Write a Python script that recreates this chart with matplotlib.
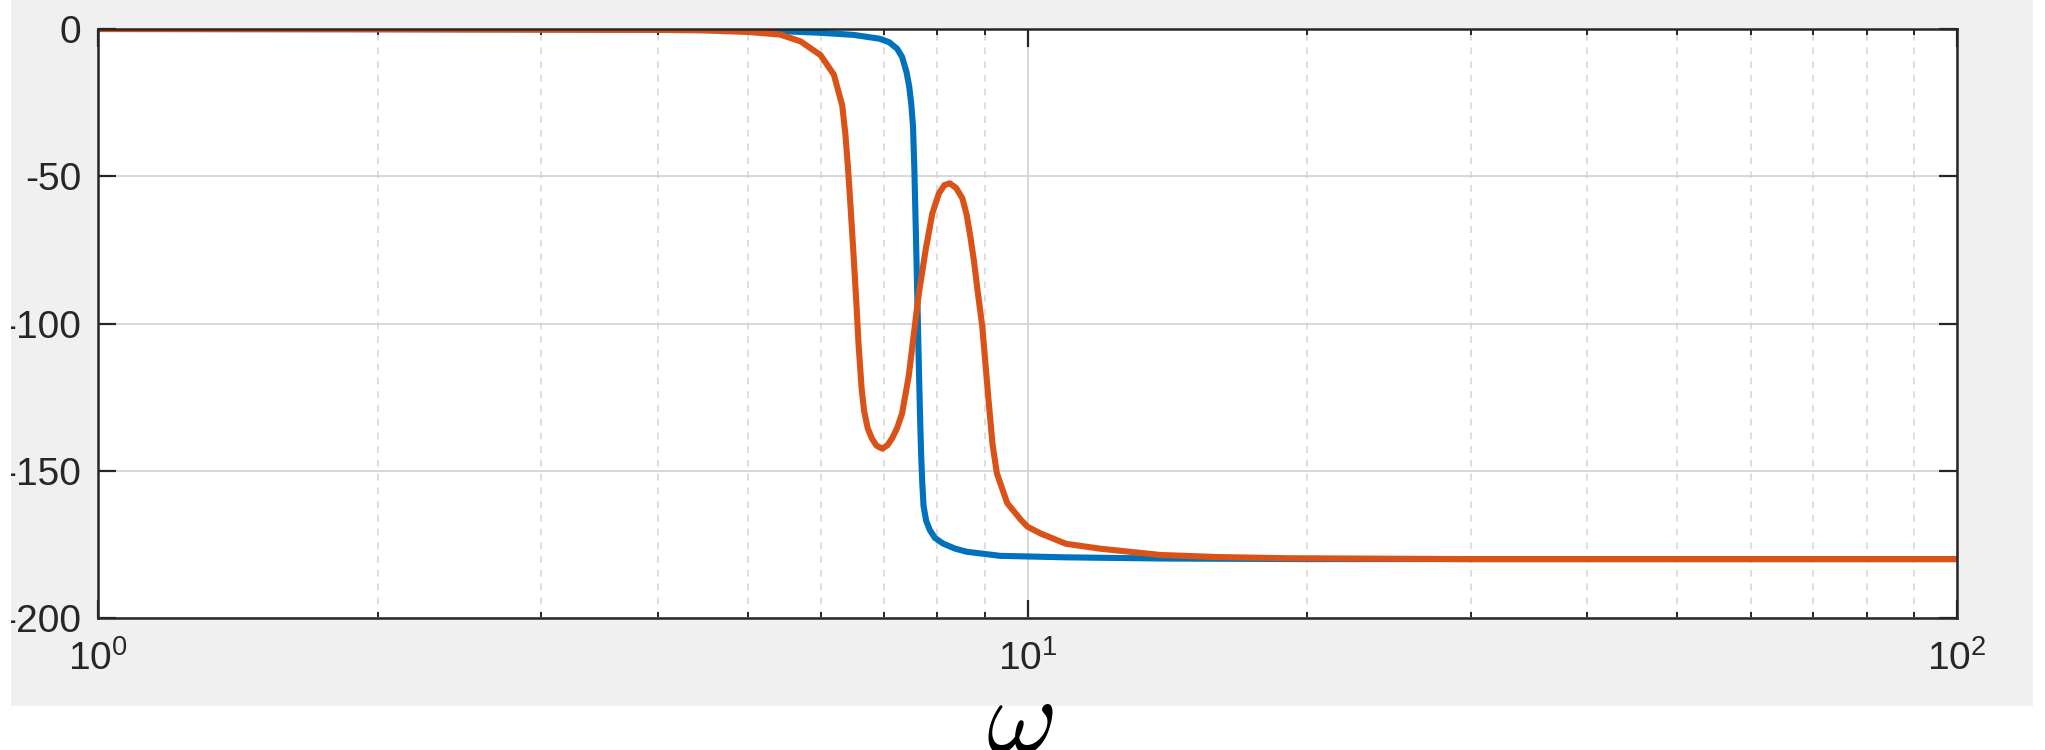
import numpy as np
import matplotlib
matplotlib.use('Agg')
import matplotlib.pyplot as plt
from matplotlib.patches import Rectangle

# phase data (omega in rad/s, phase in deg)
omega_a = [1.0, 2.0, 3.0, 4.0, 5.0, 5.5, 6.0, 6.5, 6.93, 7.1, 7.24, 7.33, 7.41, 7.46, 7.50,
           7.53, 7.555, 7.58, 7.60, 7.62, 7.645, 7.665, 7.685, 7.705, 7.73, 7.78, 7.85, 7.95,
           8.11, 8.35, 8.60, 9.35, 11.0, 13.9, 20.0, 100.0]
phase_a = [0.0, -0.05, -0.15, -0.25, -0.4, -0.8, -1.3, -2.0, -3.3, -4.5, -6.7, -9.5, -14.6, -19.5, -25.8,
           -33.0, -47.0, -66.0, -82.0, -98.0, -118.0, -133.0, -145.0, -154.0, -162.0, -167.0, -170.1, -172.8,
           -174.7, -176.4, -177.5, -178.9, -179.4, -179.8, -180.0, -180.0]

omega_b = [1.0, 2.0, 3.0, 4.0, 4.5, 5.0, 5.42, 5.70, 5.99, 6.19, 6.32, 6.37, 6.41, 6.45, 6.50,
           6.55, 6.58, 6.63, 6.67, 6.73, 6.80, 6.88, 6.98, 7.07, 7.15, 7.24, 7.33, 7.45,
           7.55, 7.64, 7.77, 7.90, 8.03, 8.14, 8.25, 8.38, 8.51, 8.60, 8.68, 8.76, 8.83,
           8.94, 9.08, 9.17, 9.27, 9.51, 9.84, 10.0, 10.33, 11.0, 12.0, 13.9, 16.0, 19.0,
           30.0, 100.0]
phase_b = [0.0, -0.1, -0.2, -0.3, -0.5, -1.0, -1.9, -4.2, -8.9, -15.5, -26.0, -36.0, -47.0, -60.0, -77.0,
           -95.0, -107.0, -122.0, -129.5, -135.5, -139.0, -141.5, -142.5, -141.3, -139.0, -135.5, -130.5, -118.0,
           -103.0, -89.8, -75.0, -62.6, -55.8, -53.0, -52.4, -54.0, -57.5, -63.0, -70.5, -79.0, -88.0,
           -101.0, -126.0, -141.0, -150.9, -161.0, -166.7, -169.0, -171.3, -174.8, -176.5, -178.6, -179.3, -179.7,
           -180.0, -180.0]

yticks = [-200, -150, -100, -50, 0]
xticks = [1, 10, 100]
xticklabels = ['$10^{0}$', '$10^{1}$', '$10^{2}$']

plt.rcParams['font.family'] = ['Liberation Sans', 'DejaVu Sans']
plt.rcParams['mathtext.fontset'] = 'custom'
plt.rcParams['mathtext.rm'] = 'Liberation Sans'
plt.rcParams['mathtext.it'] = 'Liberation Sans:italic'
plt.rcParams['mathtext.default'] = 'rm'
plt.rcParams['axes.unicode_minus'] = False

W, H = 2045, 750
fig = plt.figure(figsize=(W / 100, H / 100), dpi=100)
fig.patch.set_facecolor('white')
# matlab grey figure area
fig.add_artist(Rectangle((11 / W, 1 - 706 / H), (2033 - 11) / W, 706 / H,
                         transform=fig.transFigure, facecolor='#f0f0f0', edgecolor='none', zorder=-10))

ax = fig.add_axes([98 / W, 1 - 618 / H, (1957 - 98) / W, (618 - 29) / H])
ax.set_facecolor('white')
ax.plot(omega_a, phase_a, color='#0072BD', lw=4.4, solid_joinstyle='round')
ax.plot(omega_b, phase_b, color='#D95319', lw=4.4, solid_joinstyle='round')

ax.set_xscale('log')
ax.set_xlim(1, 100)
ax.set_ylim(-200, 0)
ax.set_yticks(yticks)
ax.set_xticks(xticks, labels=xticklabels)
ax.xaxis.set_minor_formatter(matplotlib.ticker.NullFormatter())

ax.set_axisbelow(True)
ax.grid(True, which='major', color='#d4d4d4', lw=1.3)
ax.grid(True, which='minor', axis='x', color='#d4d4d4', lw=1.1, ls=(0, (4.5, 4.5)))

for s in ax.spines.values():
    s.set_color('#262626')
    s.set_linewidth(1.8)
ax.tick_params(which='both', direction='in', top=True, right=True, color='#262626',
               labelcolor='#262626', labelsize=28)
ax.tick_params(which='major', length=13, width=1.6)
ax.tick_params(which='minor', length=4.5, width=1.4)
ax.tick_params(axis='y', pad=12)
ax.tick_params(axis='x', pad=16)

# left strip of the crop is white, tick labels get cut there
fig.add_artist(Rectangle((0, 0), 11 / W, 1, transform=fig.transFigure,
                         facecolor='white', edgecolor='none', zorder=10))

fig.text(1019.5 / W, 1 - 674 / H, r'$\omega$', math_fontfamily='cm', fontsize=78,
         ha='center', va='top', color='black', zorder=11)

plt.savefig('out.png', dpi=100)
